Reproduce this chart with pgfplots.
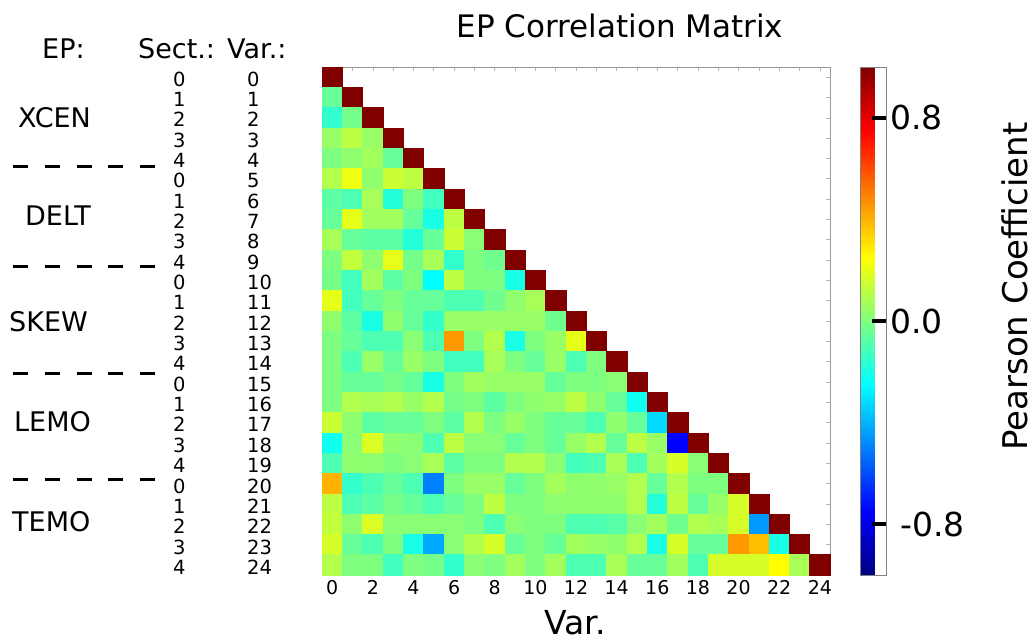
\documentclass[border=0pt]{standalone}
\usepackage{pgfplots}
\pgfplotsset{compat=1.18}
\usepackage{fontspec}
\setmainfont{DejaVu Sans}
\newcommand\fs[1]{\fontsize{#1bp}{#1bp}\selectfont}

\pgfplotstableread{
x y c
0 0 1
0 1 -0.05
1 1 1
0 2 -0.15
1 2 -0.02
2 2 1
0 3 0.05
1 3 0.12
2 3 0.05
3 3 1
0 4 0
1 4 0.03
2 4 0.07
3 4 -0.05
4 4 1
0 5 0.1
1 5 0.22
2 5 0.03
3 5 0.15
4 5 0.12
5 5 1
0 6 -0.07
1 6 -0.1
2 6 0.08
3 6 -0.18
4 6 0
5 6 -0.12
6 6 1
0 7 -0.05
1 7 0.2
2 7 0.07
3 7 0.07
4 7 -0.05
5 7 -0.2
6 7 0.12
7 7 1
0 8 0.08
1 8 -0.05
2 8 -0.07
3 8 -0.07
4 8 -0.18
5 8 -0.05
6 8 0.15
7 8 0.02
8 8 1
0 9 0
1 9 0.13
2 9 0.03
3 9 0.2
4 9 -0.02
5 9 0.08
6 9 -0.15
7 9 0
8 9 -0.03
9 9 1
0 10 -0.02
1 10 -0.12
2 10 0.07
3 10 -0.07
4 10 0
5 10 -0.25
6 10 0.12
7 10 0
8 10 0
9 10 -0.2
10 10 1
0 11 0.2
1 11 -0.12
2 11 -0.05
3 11 0
4 11 -0.05
5 11 -0.05
6 11 -0.1
7 11 -0.1
8 11 -0.03
9 11 0.03
10 11 0.08
11 11 1
0 12 0.03
1 12 -0.07
2 12 -0.2
3 12 0.03
4 12 -0.05
5 12 -0.15
6 12 0.05
7 12 0.05
8 12 0.05
9 12 0.05
10 12 0.05
11 12 -0.03
12 12 1
0 13 0
1 13 -0.05
2 13 -0.1
3 13 -0.1
4 13 0.02
5 13 -0.1
6 13 0.45
7 13 0
8 13 0.1
9 13 -0.2
10 13 0
11 13 0.05
12 13 0.2
13 13 1
0 14 0
1 14 -0.1
2 14 0.05
3 14 -0.05
4 14 0.05
5 14 0
6 14 -0.12
7 14 -0.12
8 14 0.08
9 14 0
10 14 -0.05
11 14 0.05
12 14 -0.1
13 14 0
14 14 1
0 15 0
1 15 -0.05
2 15 -0.05
3 15 -0.02
4 15 -0.05
5 15 -0.2
6 15 0
7 15 0.07
8 15 0.05
9 15 0.05
10 15 0.05
11 15 -0.05
12 15 0
13 15 0
14 15 0.02
15 15 1
0 16 0
1 16 0.1
2 16 0.08
3 16 0.1
4 16 0.05
5 16 0.1
6 16 -0.02
7 16 0
8 16 -0.07
9 16 0
10 16 0.03
11 16 0.05
12 16 0.12
13 16 0.03
14 16 -0.05
15 16 -0.22
16 16 1
0 17 0.15
1 17 0.03
2 17 -0.07
3 17 -0.05
4 17 -0.05
5 17 0
6 17 -0.07
7 17 0.1
8 17 0
9 17 0.05
10 17 0
11 17 -0.05
12 17 -0.05
13 17 -0.1
14 17 0.03
15 17 -0.05
16 17 -0.32
17 17 1
0 18 -0.22
1 18 0.02
2 18 0.18
3 18 0.03
4 18 0.02
5 18 -0.1
6 18 0.12
7 18 0.02
8 18 0.02
9 18 -0.05
10 18 0
11 18 -0.05
12 18 0.05
13 18 0.1
14 18 -0.05
15 18 0.12
16 18 0.05
17 18 -0.75
18 18 1
0 19 -0.1
1 19 0.03
2 19 0.03
3 19 0
4 19 0.02
5 19 0.08
6 19 -0.07
7 19 0
8 19 0
9 19 0.1
10 19 0.1
11 19 0.02
12 19 -0.12
13 19 -0.1
14 19 0.08
15 19 -0.1
16 19 0.07
17 19 0.17
18 19 0.02
19 19 1
0 20 0.4
1 20 -0.15
2 20 -0.1
3 20 -0.05
4 20 -0.1
5 20 -0.5
6 20 0
7 20 0.05
8 20 0.05
9 20 -0.05
10 20 0
11 20 0.07
12 20 0.03
13 20 0.03
14 20 0.05
15 20 0.1
16 20 -0.05
17 20 0.1
18 20 0
19 20 0
20 20 1
0 21 0.12
1 21 -0.1
2 21 -0.07
3 21 -0.02
4 21 -0.05
5 21 -0.1
6 21 -0.05
7 21 0
8 21 0.12
9 21 0
10 21 0
11 21 0.03
12 21 0.03
13 21 0.03
14 21 0.03
15 21 0.1
16 21 -0.18
17 21 0.12
18 21 -0.05
19 21 0.05
20 21 0.17
21 21 1
0 22 0.13
1 22 0.03
2 22 0.18
3 22 0.02
4 22 0.02
5 22 0.02
6 22 0.02
7 22 0
8 22 -0.1
9 22 0.02
10 22 0
11 22 0
12 22 -0.1
13 22 -0.1
14 22 -0.08
15 22 0.02
16 22 0.07
17 22 -0.03
18 22 0.1
19 22 0.08
20 22 0.17
21 22 -0.45
22 22 1
0 23 0.17
1 23 -0.05
2 23 -0.1
3 23 0
4 23 -0.2
5 23 -0.42
6 23 0.02
7 23 0.1
8 23 0.17
9 23 -0.05
10 23 0
11 23 -0.05
12 23 0.07
13 23 0.05
14 23 0.03
15 23 0.1
16 23 -0.2
17 23 0.17
18 23 -0.05
19 23 -0.05
20 23 0.45
21 23 0.38
22 23 -0.2
23 23 1
0 24 0.1
1 24 0
2 24 0
3 24 -0.12
4 24 0
5 24 -0.02
6 24 -0.15
7 24 0.02
8 24 0
9 24 0.07
10 24 0
11 24 0.07
12 24 -0.1
13 24 -0.1
14 24 0.08
15 24 -0.05
16 24 -0.05
17 24 0.07
18 24 -0.1
19 24 0.17
20 24 0.17
21 24 0.17
22 24 0.25
23 24 0.08
24 24 1
}\corrdata

\begin{document}
\begin{tikzpicture}
\path[use as bounding box] (0,0) rectangle (1035bp,-641bp);
\begin{axis}[
  at={(322bp,-67bp)}, anchor=north west,
  width=508bp, height=508bp, scale only axis,
  xmin=-0.5, xmax=24.5, ymin=-0.5, ymax=24.5, y dir=reverse,
  axis on top,
  axis line style={gray!80},
  xtick={0,2,...,24},
  xticklabels={0,2,4,6,8,10,12,14,16,18,20,22,24},
  minor xtick={1,3,...,23},
  ytick={0,...,24}, yticklabels={},
  tick align=inside,
  tick style={gray!60, line width=0.6bp},
  major tick length=4bp, minor tick length=4bp,
  xticklabel style={font=\fs{19}, inner sep=0bp, yshift=-5bp},
  colormap/jet,
  point meta min=-1, point meta max=1,
  colorbar,
  colorbar style={
    at={(parent axis.north east)}, anchor=north west, xshift=22bp,
    scale only axis, width=26bp,
    axis line style={gray},
    ytick={-0.8,0,0.8},
    yticklabels={\hspace{10bp}-0.8,0.0,0.8},
    ytick pos=right, yticklabel pos=right,
    tick align=inside,
    major tick length=15bp,
    tick style={black, line width=4bp},
    yticklabel style={font=\fs{33}, inner sep=0bp, xshift=3.5bp},
  },
]
\addplot[scatter, only marks, mark=square*, mark size=10.16bp,
  point meta=explicit,
  scatter/use mapped color={draw=mapped color, fill=mapped color}]
  table[x=x, y=y, meta=c] {\corrdata};
\end{axis}

% title and labels
\node[anchor=base, inner sep=0pt, font=\fs{31}] at (620bp,-37.5bp) {EP Correlation Matrix};
\node[anchor=base, inner sep=0pt, font=\fs{33}] at (575bp,-634bp) {Var.};
\node[anchor=base, rotate=90, inner sep=0pt, font=\fs{34}] at (1027bp,-286.5bp) {Pearson Coefficient};

% left annotation headers
\node[anchor=base west, inner sep=0pt, font=\fs{27}] at (42bp,-58bp) {EP:};
\node[anchor=base west, inner sep=0pt, font=\fs{27}] at (138bp,-58bp) {Sect.:};
\node[anchor=base west, inner sep=0pt, font=\fs{27}] at (227bp,-58bp) {Var.:};

% group labels
\node[anchor=base west, inner sep=0pt, font=\fs{27}] at (18bp,-127.7bp) {XCEN};
\node[anchor=base west, inner sep=0pt, font=\fs{27}] at (25bp,-225.7bp) {DELT};
\node[anchor=base west, inner sep=0pt, font=\fs{27}] at (9bp,-331bp) {SKEW};
\node[anchor=base west, inner sep=0pt, font=\fs{27}] at (14bp,-431.7bp) {LEMO};
\node[anchor=base west, inner sep=0pt, font=\fs{27}] at (12bp,-531.7bp) {TEMO};

% dashed separators (five dashes each)
\foreach \yy in {166.7,266.7,373.3,479}{
  \foreach \xx in {13.3,45,76.7,108.3,140}{
    \draw[black, line width=3bp] (\xx bp,-\yy bp) -- ++(15bp,0);
  }
}

% section and variable numbers
\foreach \i in {0,...,24}{
  \pgfmathtruncatemacro\s{mod(\i,5)}
  \node[anchor=base west, inner sep=0pt, font=\fs{19.5}] at (173bp,{-(86+20.35*\i)*1bp}) {\s};
  \node[anchor=base west, inner sep=0pt, font=\fs{19.5}] at (247bp,{-(86+20.35*\i)*1bp}) {\i};
}
\end{tikzpicture}
\end{document}
